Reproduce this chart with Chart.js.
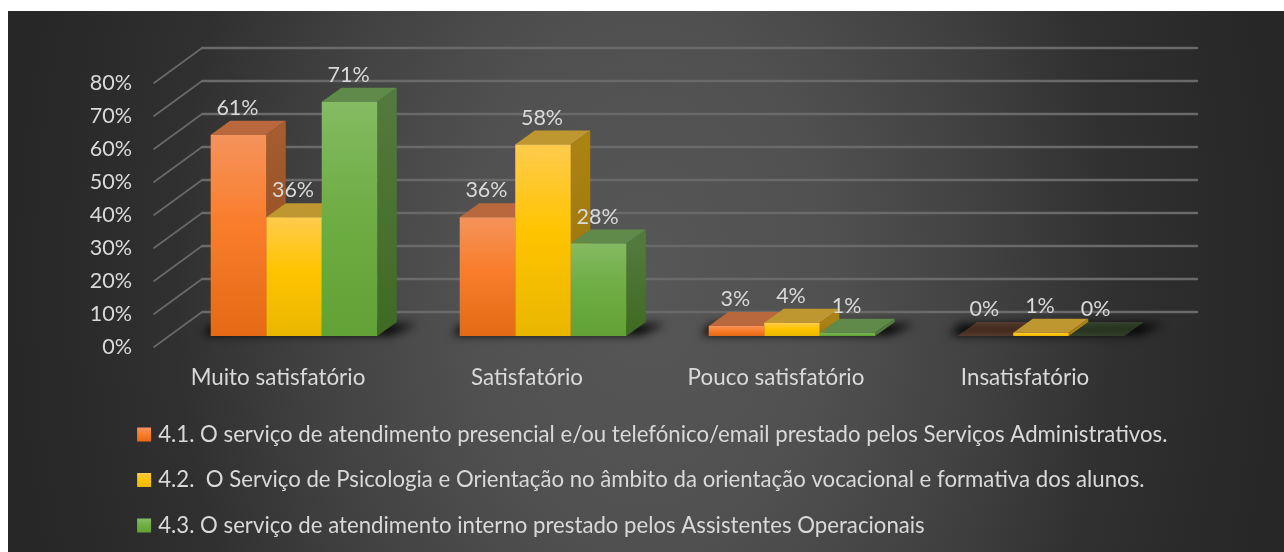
<!DOCTYPE html>
<html lang="pt">
<head>
<meta charset="utf-8">
<title>Grau de satisfação</title>
<script src="https://cdn.jsdelivr.net/npm/chart.js@4/dist/chart.umd.min.js"></script>
<style>
    html, body { margin: 0; padding: 0; background: #fff; overflow: hidden; }
    #frame { position: relative; width: 1284px; height: 552px; }
    #panel {
        position: absolute; left: 8px; top: 11px; right: 0; bottom: 0;
        background: radial-gradient(ellipse 630px 900px at 50% 50%, #575757 0%, #505050 30%, #404040 55%, #303030 75%, #272727 100%);
    }
    #chart { position: absolute; left: 0; top: 0; }
</style>
</head>
<body>
<div id="frame">
    <div id="panel"></div>
    <canvas id="chart" width="1284" height="552"></canvas>
</div>
<script>
const categories = ['Muito satisfatório', 'Satisfatório', 'Pouco satisfatório', 'Insatisfatório'];
const servico41 = [61, 36, 3, 0];
const servico42 = [36, 58, 4, 1];
const servico43 = [71, 28, 1, 0];
const legendLabels = [
    '4.1. O serviço de atendimento presencial e/ou telefónico/email prestado pelos Serviços Administrativos.',
    '4.2.  O Serviço de Psicologia e Orientação no âmbito da orientação vocacional e formativa dos alunos.',
    '4.3. O serviço de atendimento interno prestado pelos Assistentes Operacionais'
];

const FONT = 'Lato, Carlito, sans-serif';
const TEXT = '#d9d9d9';
const DX = 19.5;    // bar depth
const DY = 14;

// front, top and side colours for each series
const palette = [
    { stops: ['#f5935b', '#f97d2b', '#e46a15'], top: '#b8683c', side: ['#a45c30', '#8a4a1e'] },
    { stops: ['#ffcb4d', '#ffc400', '#e9b600'], top: '#bf9730', side: ['#ab8214', '#96720c'] },
    { stops: ['#85bb63', '#6eae44', '#62a135'], top: '#5f8a4a', side: ['#527a3c', '#3f6a22'] }
];

function vertGradient(ctx, y0, y1, stops) {
    const g = ctx.createLinearGradient(0, y0, 0, y1);
    g.addColorStop(0, stops[0]);
    g.addColorStop(0.45, stops[1]);
    g.addColorStop(1, stops[2]);
    return g;
}

function poly(ctx, pts, fill) {
    ctx.beginPath();
    pts.forEach((p, i) => i ? ctx.lineTo(p[0], p[1]) : ctx.moveTo(p[0], p[1]));
    ctx.closePath();
    ctx.fillStyle = fill;
    ctx.fill();
}

// --- back walls, floor shadows and the 3D faces of the bars ---
const depthPlugin = {
    id: 'depth',
    afterLayout(chart) {
        // the legend sits under the plot, left aligned with the swatches
        chart.legend.left = 117.8;
        chart.legend.right = 1284;
        chart.legend.top = 400.2;
    },
    beforeDatasetsDraw(chart) {
        const ctx = chart.ctx;
        const yScale = chart.scales.y;
        const area = chart.chartArea;
        const metas = chart.data.datasets.map((d, i) => chart.getDatasetMeta(i));

        ctx.save();
        ctx.lineCap = 'round';
        yScale.ticks.forEach((tick) => {
            const y = yScale.getPixelForValue(tick.value);
            ctx.strokeStyle = '#6a6a6a';
            ctx.lineWidth = 1.6;
            ctx.beginPath();
            ctx.moveTo(area.left - 15.5, y + 11);
            ctx.lineTo(area.left + 32.5, y - 24);
            ctx.stroke();
            ctx.lineWidth = 2.4;
            ctx.beginPath();
            ctx.moveTo(area.left + 32.5, y - 24);
            ctx.lineTo(area.right + 31.5, y - 24);
            ctx.stroke();
        });
        ctx.restore();

        // floor shadow of each group
        categories.forEach((c, i) => {
            const left = metas[0].data[i].x - metas[0].data[i].width / 2;
            const right = metas[2].data[i].x + metas[2].data[i].width / 2;
            const base = metas[0].data[i].base;
            ctx.save();
            ctx.filter = 'blur(5px)';
            poly(ctx, [[left - 8, base - 1], [right + 14, base - 1], [right + DX + 20, base - DY + 2], [left + 2, base - DY + 2]], 'rgba(0,0,0,0.95)');
            ctx.restore();
        });

        // left to right so each top lies over the side of the bar before it
        categories.forEach((c, i) => {
            metas.forEach((meta, s) => {
                const bar = meta.data[i];
                const l = bar.x - bar.width / 2;
                const r = bar.x + bar.width / 2;
                const y = bar.y;
                const base = bar.base;
                const value = chart.data.datasets[s].data[i];
                const colors = palette[s];
                ctx.save();
                if (value > 0) {
                    const side = ctx.createLinearGradient(0, y, 0, base);
                    side.addColorStop(0, colors.side[0]);
                    side.addColorStop(1, colors.side[1]);
                    poly(ctx, [[r, y], [r + DX, y - DY], [r + DX, base - DY], [r, base]], side);
                } else {
                    ctx.globalAlpha = 0.32;
                }
                poly(ctx, [[l, y], [r, y], [r + DX, y - DY], [l + DX, y - DY]], colors.top);
                ctx.restore();
            });
        });
    },
    afterDatasetsDraw(chart) {
        const ctx = chart.ctx;
        ctx.save();
        ctx.font = '21.5px ' + FONT;
        ctx.fillStyle = TEXT;
        ctx.textAlign = 'center';
        ctx.textBaseline = 'middle';
        chart.data.datasets.forEach((ds, s) => {
            chart.getDatasetMeta(s).data.forEach((bar, i) => {
                ctx.fillText(ds.data[i] + '%', bar.x - 1, bar.y - 27);
            });
        });
        ctx.restore();
    }
};

function frontColor(s) {
    return (context) => {
        const chart = context.chart;
        if (!chart.chartArea || context.raw === undefined) return palette[s].stops[1];
        const y = chart.scales.y.getPixelForValue(context.raw);
        const base = chart.scales.y.getPixelForValue(0);
        return vertGradient(chart.ctx, y, Math.max(base, y + 1), palette[s].stops);
    };
}

const seriesValues = [servico41, servico42, servico43];

new Chart(document.getElementById('chart'), {
    type: 'bar',
    data: {
        labels: categories,
        datasets: seriesValues.map((values, s) => ({
            label: legendLabels[s],
            data: values,
            backgroundColor: frontColor(s),
            borderWidth: 0,
            categoryPercentage: 0.669,
            barPercentage: 1
        }))
    },
    options: {
        responsive: false,
        animation: false,
        layout: { padding: { top: 72, right: 118.5, left: 0, bottom: 0 } },
        scales: {
            y: {
                min: 0,
                max: 80,
                grid: { display: false, drawTicks: false },
                border: { display: false },
                ticks: {
                    stepSize: 10,
                    padding: 37.5,
                    labelOffset: 11.5,
                    color: TEXT,
                    font: { family: FONT, size: 21.6 },
                    callback: (v) => v + '%'
                },
                afterFit(scale) { scale.width = 169.5; }
            },
            x: {
                grid: { display: false, drawTicks: false },
                border: { display: false },
                ticks: {
                    padding: 28,
                    labelOffset: -16,
                    maxRotation: 0,
                    autoSkip: false,
                    color: TEXT,
                    font: { family: FONT, size: 22.4 }
                },
                afterFit(scale) { scale.height = 216 - scale.chart.legend.height; }
            }
        },
        plugins: {
            tooltip: { enabled: false },
            legend: {
                position: 'bottom',
                align: 'start',
                labels: {
                    color: TEXT,
                    font: { family: FONT, size: 22.2 },
                    boxWidth: 6,
                    boxHeight: 6,
                    padding: 23.3,
                    // small box with a thick same colour edge, keeps the gap to the text tight
                    generateLabels(chart) {
                        return legendLabels.map((text, s) => {
                            const y = 428 + 45.5 * s;
                            const g = vertGradient(chart.ctx, y, y + 14, palette[s].stops);
                            return {
                                text,
                                fillStyle: g,
                                strokeStyle: g,
                                lineWidth: 8,
                                fontColor: TEXT,
                                datasetIndex: s
                            };
                        });
                    }
                }
            }
        }
    },
    plugins: [depthPlugin]
});
</script>
</body>
</html>
